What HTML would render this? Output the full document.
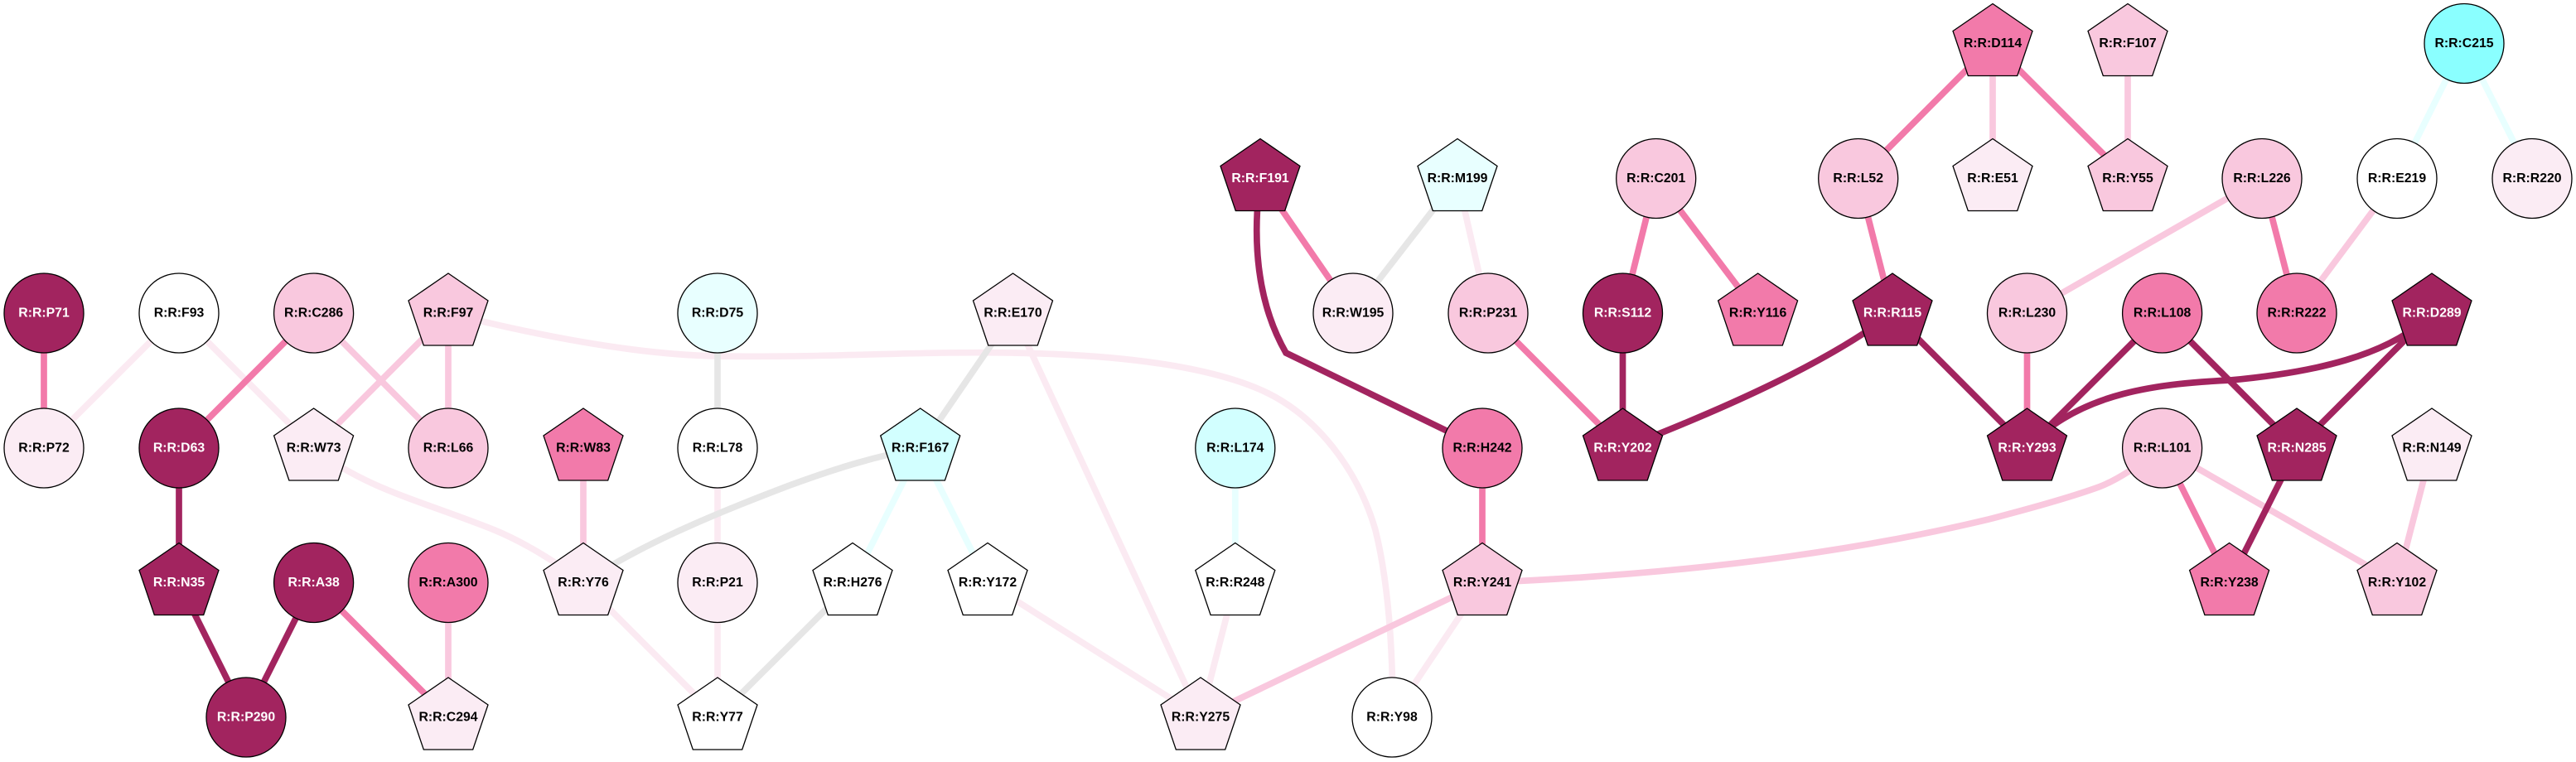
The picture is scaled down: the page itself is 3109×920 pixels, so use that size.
<!DOCTYPE html>
<html><head><meta charset="utf-8"><title>Residue network</title>
<style>
html,body{margin:0;padding:0;background:#fff;width:3109px;height:920px;overflow:hidden}
svg{display:block}
path.e{fill:none;stroke-width:7.7}
.ed{stroke:#a2245f}.em{stroke:#f27aaa}.el{stroke:#f9c8de}.ef{stroke:#fbeaf2}.eg{stroke:#e6e6e6}.ec{stroke:#e8ffff}
g.n circle,g.n use{stroke:#000;stroke-width:1.3}
g.n text{font:bold 15.8px "Liberation Sans",Arial,sans-serif;text-anchor:middle;fill:#000}
g.d{fill:#a2245f}g.d text{fill:#fff}
g.m{fill:#f27aaa}g.l{fill:#f9c8de}g.f{fill:#fbecf4}g.w{fill:#fff}
g.c1{fill:#e8ffff}g.c2{fill:#d2ffff}g.c3{fill:#8affff}
</style></head><body>
<svg width="3109" height="920" viewBox="0 0 3109 920" xmlns="http://www.w3.org/2000/svg">
<defs><polygon id="p" points="0,-48 48,-15 29.7,39 -29.7,39 -48,-15"/></defs>
<rect width="3109" height="920" fill="#fff"/>
<g>
<path class="e ef" d="M216,378L53,541"/>
<path class="e ef" d="M216,378L378.6,541"/>
<path class="e ef" d="M704,703.5L866,866"/>
<path class="e ef" d="M866,541V703.5"/>
<path class="e ef" d="M866,703.5V866"/>
<path class="e ef" d="M1222.5,378L1449,866"/>
<path class="e ef" d="M1192,703.5L1449,866"/>
<path class="e ef" d="M1490.8,703.5L1449,866"/>
<path class="e ef" d="M1789,703.5L1680,866"/>
<path class="e ef" d="M1759,215.5L1796,378"/>
<path class="e ef" d="M541,378C640,403 760,428 866,430C1000,432 1100,424 1222,426C1340,428 1450,440 1520,470C1590,500 1640,570 1660,640C1675,700 1681,780 1681,866"/>
<path class="e ef" d="M378.6,541C440,590 510,605 597,640C640,658 680,685 704,703.5"/>
<path class="e ec" d="M1110.7,541L1029,703.5"/>
<path class="e ec" d="M1110.7,541L1192,703.5"/>
<path class="e ec" d="M1490.8,541V703.5"/>
<path class="e ec" d="M2974,52.5L2893,215.5"/>
<path class="e ec" d="M2974,52.5L3056,215.5"/>
<path class="e eg" d="M866,378V541"/>
<path class="e eg" d="M1029,703.5L866,866"/>
<path class="e eg" d="M1222.5,378L1110.7,541"/>
<path class="e eg" d="M1759,215.5L1633,378"/>
<path class="e eg" d="M704,703.5C770,660 850,625 953,586C1010,565 1060,550 1110.7,541"/>
<path class="e el" d="M378.6,378L541,541"/>
<path class="e el" d="M541,378L378.6,541"/>
<path class="e el" d="M541,378V541"/>
<path class="e el" d="M541,703.5V866"/>
<path class="e el" d="M704,541V703.5"/>
<path class="e el" d="M1789,703.5L1449,866"/>
<path class="e el" d="M2405,52.5V215.5"/>
<path class="e el" d="M2568,52.5V215.5"/>
<path class="e el" d="M2730,215.5L2446.5,378"/>
<path class="e el" d="M2893,215.5L2772,378"/>
<path class="e el" d="M2609.6,541L2893,703.5"/>
<path class="e el" d="M2935,541L2893,703.5"/>
<path class="e el" d="M1789,703.5C1950,697 2180,680 2400,627C2450,614 2500,600 2533,588C2560,578 2590,555 2609.6,541"/>
<path class="e em" d="M53,378V541"/>
<path class="e em" d="M378.6,378L216,541"/>
<path class="e em" d="M378.6,703.5L541,866"/>
<path class="e em" d="M1789,541V703.5"/>
<path class="e em" d="M1521,215.5L1633,378"/>
<path class="e em" d="M1998.7,215.5L1958.5,378"/>
<path class="e em" d="M1998.7,215.5L2121.6,378"/>
<path class="e em" d="M1796,378L1958.5,541"/>
<path class="e em" d="M2242.7,215.5L2284,378"/>
<path class="e em" d="M2405,52.5L2242.7,215.5"/>
<path class="e em" d="M2405,52.5L2568,215.5"/>
<path class="e em" d="M2730,215.5L2772,378"/>
<path class="e em" d="M2446.5,378V541"/>
<path class="e em" d="M2609.6,541L2690.6,703.5"/>
<path class="e ed" d="M216,541V703.5"/>
<path class="e ed" d="M216,703.5L297,866"/>
<path class="e ed" d="M378.6,703.5L297,866"/>
<path class="e ed" d="M1958.5,378V541"/>
<path class="e ed" d="M2284,378L2446.5,541"/>
<path class="e ed" d="M2609.6,378L2446.5,541"/>
<path class="e ed" d="M2609.6,378L2772,541"/>
<path class="e ed" d="M2935,378L2772,541"/>
<path class="e ed" d="M2772,541L2690.6,703.5"/>
<path class="e ed" d="M1521,215.5C1510,300 1520,370 1552,426L1789,541"/>
<path class="e ed" d="M2284,378C2210,435 2090,490 1958.5,541"/>
<path class="e ed" d="M2935,378C2885,430 2790,450 2692,459C2610,463 2510,472 2446.5,541"/>
</g>
<g class="n d" transform="translate(53,378)"><circle r="48"/><text y="4.7">R:R:P71</text></g>
<g class="n w" transform="translate(216,378)"><circle r="48"/><text y="4.7">R:R:F93</text></g>
<g class="n l" transform="translate(378.6,378)"><circle r="48"/><text y="4.7">R:R:C286</text></g>
<g class="n l" transform="translate(541,378)"><use href="#p"/><text y="4.7">R:R:F97</text></g>
<g class="n c1" transform="translate(866,378)"><circle r="48"/><text y="4.7">R:R:D75</text></g>
<g class="n f" transform="translate(1222.5,378)"><use href="#p"/><text y="4.7">R:R:E170</text></g>
<g class="n f" transform="translate(1633,378)"><circle r="48"/><text y="4.7">R:R:W195</text></g>
<g class="n l" transform="translate(1796,378)"><circle r="48"/><text y="4.7">R:R:P231</text></g>
<g class="n d" transform="translate(1958.5,378)"><circle r="48"/><text y="4.7">R:R:S112</text></g>
<g class="n m" transform="translate(2121.6,378)"><use href="#p"/><text y="4.7">R:R:Y116</text></g>
<g class="n d" transform="translate(2284,378)"><use href="#p"/><text y="4.7">R:R:R115</text></g>
<g class="n l" transform="translate(2446.5,378)"><circle r="48"/><text y="4.7">R:R:L230</text></g>
<g class="n m" transform="translate(2609.6,378)"><circle r="48"/><text y="4.7">R:R:L108</text></g>
<g class="n m" transform="translate(2772,378)"><circle r="48"/><text y="4.7">R:R:R222</text></g>
<g class="n d" transform="translate(2935,378)"><use href="#p"/><text y="4.7">R:R:D289</text></g>
<g class="n f" transform="translate(53,541)"><circle r="48"/><text y="4.7">R:R:P72</text></g>
<g class="n d" transform="translate(216,541)"><circle r="48"/><text y="4.7">R:R:D63</text></g>
<g class="n f" transform="translate(378.6,541)"><use href="#p"/><text y="4.7">R:R:W73</text></g>
<g class="n l" transform="translate(541,541)"><circle r="48"/><text y="4.7">R:R:L66</text></g>
<g class="n m" transform="translate(704,541)"><use href="#p"/><text y="4.7">R:R:W83</text></g>
<g class="n w" transform="translate(866,541)"><circle r="48"/><text y="4.7">R:R:L78</text></g>
<g class="n c2" transform="translate(1110.7,541)"><use href="#p"/><text y="4.7">R:R:F167</text></g>
<g class="n c2" transform="translate(1490.8,541)"><circle r="48"/><text y="4.7">R:R:L174</text></g>
<g class="n m" transform="translate(1789,541)"><circle r="48"/><text y="4.7">R:R:H242</text></g>
<g class="n d" transform="translate(1958.5,541)"><use href="#p"/><text y="4.7">R:R:Y202</text></g>
<g class="n d" transform="translate(2446.5,541)"><use href="#p"/><text y="4.7">R:R:Y293</text></g>
<g class="n l" transform="translate(2609.6,541)"><circle r="48"/><text y="4.7">R:R:L101</text></g>
<g class="n d" transform="translate(2772,541)"><use href="#p"/><text y="4.7">R:R:N285</text></g>
<g class="n f" transform="translate(2935,541)"><use href="#p"/><text y="4.7">R:R:N149</text></g>
<g class="n d" transform="translate(216,703.5)"><use href="#p"/><text y="4.7">R:R:N35</text></g>
<g class="n d" transform="translate(378.6,703.5)"><circle r="48"/><text y="4.7">R:R:A38</text></g>
<g class="n m" transform="translate(541,703.5)"><circle r="48"/><text y="4.7">R:R:A300</text></g>
<g class="n f" transform="translate(704,703.5)"><use href="#p"/><text y="4.7">R:R:Y76</text></g>
<g class="n f" transform="translate(866,703.5)"><circle r="48"/><text y="4.7">R:R:P21</text></g>
<g class="n w" transform="translate(1029,703.5)"><use href="#p"/><text y="4.7">R:R:H276</text></g>
<g class="n w" transform="translate(1192,703.5)"><use href="#p"/><text y="4.7">R:R:Y172</text></g>
<g class="n w" transform="translate(1490.8,703.5)"><use href="#p"/><text y="4.7">R:R:R248</text></g>
<g class="n l" transform="translate(1789,703.5)"><use href="#p"/><text y="4.7">R:R:Y241</text></g>
<g class="n m" transform="translate(2690.6,703.5)"><use href="#p"/><text y="4.7">R:R:Y238</text></g>
<g class="n l" transform="translate(2893,703.5)"><use href="#p"/><text y="4.7">R:R:Y102</text></g>
<g class="n d" transform="translate(297,866)"><circle r="48"/><text y="4.7">R:R:P290</text></g>
<g class="n f" transform="translate(541,866)"><use href="#p"/><text y="4.7">R:R:C294</text></g>
<g class="n w" transform="translate(866,866)"><use href="#p"/><text y="4.7">R:R:Y77</text></g>
<g class="n f" transform="translate(1449,866)"><use href="#p"/><text y="4.7">R:R:Y275</text></g>
<g class="n w" transform="translate(1680,866)"><circle r="48"/><text y="4.7">R:R:Y98</text></g>
<g class="n d" transform="translate(1521,215.5)"><use href="#p"/><text y="4.7">R:R:F191</text></g>
<g class="n c1" transform="translate(1759,215.5)"><use href="#p"/><text y="4.7">R:R:M199</text></g>
<g class="n l" transform="translate(1998.7,215.5)"><circle r="48"/><text y="4.7">R:R:C201</text></g>
<g class="n l" transform="translate(2242.7,215.5)"><circle r="48"/><text y="4.7">R:R:L52</text></g>
<g class="n f" transform="translate(2405,215.5)"><use href="#p"/><text y="4.7">R:R:E51</text></g>
<g class="n l" transform="translate(2568,215.5)"><use href="#p"/><text y="4.7">R:R:Y55</text></g>
<g class="n l" transform="translate(2730,215.5)"><circle r="48"/><text y="4.7">R:R:L226</text></g>
<g class="n w" transform="translate(2893,215.5)"><circle r="48"/><text y="4.7">R:R:E219</text></g>
<g class="n f" transform="translate(3056,215.5)"><circle r="48"/><text y="4.7">R:R:R220</text></g>
<g class="n m" transform="translate(2405,52.5)"><use href="#p"/><text y="4.7">R:R:D114</text></g>
<g class="n l" transform="translate(2568,52.5)"><use href="#p"/><text y="4.7">R:R:F107</text></g>
<g class="n c3" transform="translate(2974,52.5)"><circle r="48"/><text y="4.7">R:R:C215</text></g>
</svg>
</body></html>
